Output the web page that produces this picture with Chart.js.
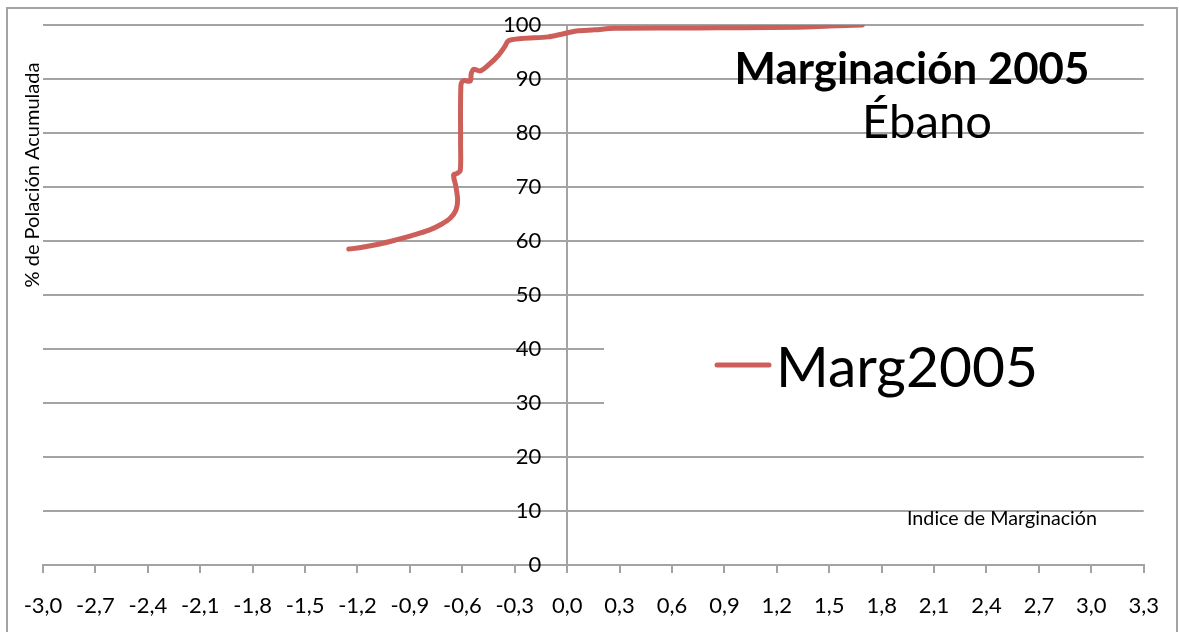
<!DOCTYPE html>
<html>
<head>
<meta charset="utf-8">
<script src="https://cdn.jsdelivr.net/npm/chart.js@4.4.1/dist/chart.umd.min.js"></script>
<style>
  html, body { margin: 0; padding: 0; background: #fff; }
  #c { display: block; }
</style>
</head>
<body>
<canvas id="c" width="1179" height="632"></canvas>
<script>
// ─── Data ────────────────────────────────────────
const seriesName = "Marg2005";
const margIndex = [-1.25, -1.18, -1.08, -0.98, -0.89, -0.79, -0.72, -0.67, -0.637, -0.627, -0.637, -0.65, -0.631, -0.612,
                   -0.61, -0.608, -0.593, -0.555, -0.549, -0.536, -0.498, -0.45, -0.393, -0.359, -0.336, -0.26, -0.108,
                   -0.032, 0.053, 0.158, 0.272, 0.75, 1.0, 1.32, 1.5, 1.69];
const popAcum   = [58.5, 58.8, 59.4, 60.2, 61.0, 62.0, 63.1, 64.2, 65.7, 67.6, 70.1, 72.2, 72.5, 73.0,
                   78.1, 88.9, 89.7, 89.6, 91.0, 91.8, 91.5, 92.6, 94.4, 95.9, 97.1, 97.5, 97.8,
                   98.3, 98.9, 99.1, 99.4, 99.45, 99.5, 99.6, 99.8, 100.0];
const xTicks = [-3.0, -2.7, -2.4, -2.1, -1.8, -1.5, -1.2, -0.9, -0.6, -0.3, 0.0, 0.3, 0.6, 0.9, 1.2, 1.5, 1.8, 2.1, 2.4, 2.7, 3.0, 3.3];
const yTicks = [0, 10, 20, 30, 40, 50, 60, 70, 80, 90, 100];

const titleText  = "Marginación 2005";
const subtitle   = "Ébano";
const xAxisTitle = "Indice de Marginación";
const yAxisTitle = "% de Polación Acumulada";

// ─── Style ───────────────────────────────────────
const FONT      = "Lato, 'Open Sans', sans-serif";
const GRID      = "#a3a3a3";
const LINE      = "#cd5f5a";

// draw text squeezed/stretched to a target width
function fitText(ctx, text, weight, targetW, x, y, align) {
    ctx.font = `${weight} 100px ${FONT}`;
    const w = ctx.measureText(text).width;
    const size = 100 * targetW / w;
    ctx.font = `${weight} ${size}px ${FONT}`;
    ctx.textAlign = align;
    ctx.fillText(text, x, y);
}

// ─── Decorations: frame, title, legend, axis titles ─
const decorations = {
    id: "decorations",
    afterDraw(chart) {
        const ctx = chart.ctx;
        ctx.save();
        // outer frame
        ctx.strokeStyle = GRID;
        ctx.lineWidth = 2;
        ctx.strokeRect(7, 8, 1170, 640);

        ctx.fillStyle = "#000";
        ctx.textBaseline = "alphabetic";
        fitText(ctx, titleText, "bold", 355, 912, 84, "center");
        fitText(ctx, subtitle, "normal", 130, 927, 138, "center");
        fitText(ctx, xAxisTitle, "normal", 190, 907, 525, "left");

        // legend box (white, hides grid lines behind it)
        ctx.fillStyle = "#fff";
        ctx.fillRect(604, 338, 541, 72);
        ctx.strokeStyle = LINE;
        ctx.lineWidth = 5;
        ctx.lineCap = "round";
        ctx.beginPath();
        ctx.moveTo(717, 365);
        ctx.lineTo(769, 365);
        ctx.stroke();
        ctx.fillStyle = "#000";
        fitText(ctx, seriesName, "normal", 262, 776, 387, "left");

        // y axis title (rotated)
        ctx.translate(33, 175);
        ctx.rotate(-Math.PI / 2);
        ctx.textBaseline = "middle";
        fitText(ctx, yAxisTitle, "normal", 225, 0, 0, "center");
        ctx.restore();
    }
};

// ─── Chart ───────────────────────────────────────
function init() {
    const points = margIndex.map((x, i) => ({ x: x, y: popAcum[i] }));
    new Chart(document.getElementById("c"), {
        type: "scatter",
        data: {
            datasets: [{
                label: seriesName,
                data: points,
                showLine: true,
                borderColor: LINE,
                borderWidth: 5,
                pointRadius: 0,
                tension: 0.3,
                borderCapStyle: "round",
                borderJoinStyle: "round"
            }]
        },
        options: {
            responsive: false,
            animation: false,
            layout: { padding: { left: 43, right: 31, top: 25, bottom: 0 } },
            plugins: { legend: { display: false }, tooltip: { enabled: false } },
            scales: {
                x: {
                    type: "linear",
                    min: -3.0, max: 3.3,
                    afterBuildTicks: s => { s.ticks = xTicks.map(v => ({ value: v })); },
                    afterFit: s => { s.height = 67; },
                    // only the 0 line is drawn across the plot (the vertical axis)
                    grid: {
                        drawOnChartArea: true, drawTicks: true, tickLength: 8, lineWidth: 2,
                        color: c => (c.tick && c.tick.value === 0) ? GRID : "rgba(0,0,0,0)",
                        tickColor: GRID
                    },
                    border: { display: true, color: GRID, width: 2 },
                    ticks: {
                        padding: 20, color: "#000", maxRotation: 0, autoSkip: false,
                        font: { family: FONT, size: 22 },
                        callback: v => v.toFixed(1).replace(".", ",")
                    }
                },
                y: {
                    type: "linear",
                    // labels sit a little left of the vertical axis at x = 0
                    position: { x: -0.148 },
                    min: 0, max: 100,
                    afterBuildTicks: s => { s.ticks = yTicks.map(v => ({ value: v })); },
                    grid: { color: GRID, lineWidth: 2, drawTicks: false },
                    border: { display: false },
                    ticks: {
                        color: "#000",
                        font: { family: FONT, size: 22 }
                    }
                }
            }
        },
        plugins: [decorations]
    });
}

window.addEventListener("DOMContentLoaded", init);
</script>
</body>
</html>
